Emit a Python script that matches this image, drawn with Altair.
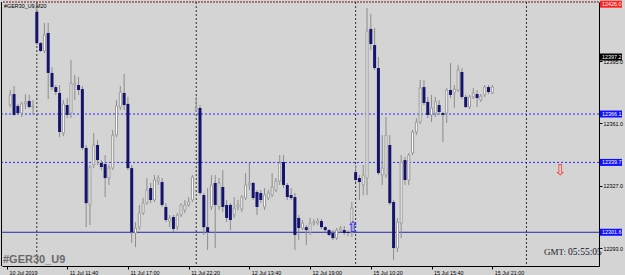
import json
import altair as alt
import pandas as pd

# ---------------- data ----------------
open_ = [12371.0, 12377.0, 12370.5, 12366.6, 12371.6, 12373.2, 12369.9,
         12421.8, 12404.8, 12400.5, 12410.3, 12388.5, 12380.8, 12377.6, 12355.7, 12371.0, 12366.6,
         12381.9, 12381.9, 12379.7, 12347.6, 12316.5, 12338.3, 12349.2, 12339.4, 12338.8, 12331.2,
         12336.6, 12354.6, 12369.9, 12377.6, 12371.6, 12336.6, 12301.2, 12304.4, 12312.1, 12317.5,
         12325.7, 12319.2, 12329.5, 12329.0, 12315.4, 12307.7, 12309.9, 12304.4, 12311.0, 12313.7,
         12316.5, 12319.2,
         12368.3, 12369.4, 12321.9, 12304.4, 12315.4, 12328.5, 12315.4, 12326.3, 12316.5, 12316.5,
         12311.0, 12315.4, 12314.3, 12320.3, 12327.4, 12328.5, 12323.5, 12323.0, 12315.4, 12320.3,
         12321.9, 12324.6, 12329.5, 12339.9, 12327.4, 12321.9, 12320.8, 12309.4, 12303.9, 12304.4,
         12301.7, 12306.6, 12306.6, 12307.7, 12304.4, 12302.8, 12301.2, 12298.4, 12302.8, 12302.8,
         12301.7, 12301.7,
         12334.4, 12331.2, 12327.4, 12331.2, 12412.5, 12403.7, 12391.2, 12332.8, 12332.8, 12349.2,
         12318.1, 12293.0, 12306.6, 12341.0, 12330.1, 12344.8, 12356.3, 12361.7, 12380.8, 12372.7,
         12365.6, 12366.6, 12371.0, 12366.6, 12366.6, 12379.2, 12377.6, 12379.2, 12389.0, 12375.4,
         12369.9, 12375.4, 12377.0, 12373.7, 12376.5, 12380.8, 12377.6]
high = [12379.2, 12381.4, 12371.6, 12372.7, 12377.0, 12376.5, 12373.7,
        12424.5, 12405.4, 12415.8, 12415.8, 12391.7, 12381.9, 12381.9, 12373.7, 12374.8, 12395.6,
        12387.4, 12386.3, 12381.4, 12349.2, 12338.3, 12355.7, 12351.9, 12341.0, 12343.7, 12338.3,
        12357.4, 12373.7, 12381.4, 12387.9, 12375.4, 12338.3, 12307.2, 12316.5, 12320.3, 12331.2,
        12328.5, 12332.8, 12332.8, 12331.2, 12317.5, 12311.0, 12311.0, 12312.1, 12317.5, 12319.2,
        12320.8, 12332.8,
        12375.4, 12371.0, 12323.0, 12325.7, 12332.8, 12332.8, 12331.2, 12335.5, 12319.2, 12317.5,
        12320.8, 12319.2, 12321.9, 12333.9, 12339.4, 12329.0, 12324.6, 12324.6, 12325.7, 12324.6,
        12333.9, 12331.2, 12343.7, 12343.7, 12328.5, 12325.7, 12323.0, 12311.0, 12308.3, 12305.5,
        12309.4, 12308.8, 12309.4, 12308.8, 12305.0, 12303.4, 12302.8, 12303.9, 12305.0, 12305.0,
        12302.8, 12318.1,
        12338.3, 12332.8, 12338.3, 12423.9, 12420.7, 12413.0, 12397.2, 12354.6, 12364.5, 12354.6,
        12319.2, 12309.4, 12343.7, 12342.6, 12344.8, 12357.4, 12363.9, 12384.7, 12384.7, 12375.4,
        12376.5, 12375.4, 12373.7, 12367.2, 12380.3, 12393.9, 12381.9, 12392.8, 12391.2, 12376.5,
        12376.5, 12380.3, 12379.2, 12377.0, 12381.9, 12381.9, 12381.9]
low = [12369.9, 12365.0, 12365.6, 12364.5, 12368.8, 12369.4, 12365.6,
       12403.7, 12399.9, 12399.4, 12374.3, 12379.2, 12376.5, 12353.5, 12354.1, 12363.9, 12363.9,
       12373.7, 12376.5, 12346.5, 12304.4, 12305.5, 12336.6, 12338.3, 12335.5, 12320.8, 12327.4,
       12335.5, 12353.5, 12368.3, 12368.3, 12335.5, 12295.7, 12293.5, 12302.8, 12311.0, 12316.5,
       12317.5, 12318.1, 12327.4, 12315.4, 12307.2, 12304.4, 12301.7, 12302.8, 12309.9, 12312.1,
       12315.4, 12318.1,
       12367.2, 12321.9, 12300.1, 12291.9, 12313.7, 12293.0, 12313.7, 12312.6, 12307.2, 12302.8,
       12309.4, 12313.7, 12312.6, 12319.2, 12324.6, 12319.2, 12311.0, 12317.5, 12313.7, 12319.2,
       12320.8, 12323.5, 12327.4, 12325.7, 12319.2, 12319.2, 12291.9, 12297.4, 12302.8, 12294.6,
       12300.1, 12305.0, 12305.5, 12303.4, 12301.7, 12299.5, 12297.4, 12297.4, 12301.7, 12300.1,
       12299.5, 12299.0,
       12329.0, 12319.2, 12321.9, 12321.9, 12401.0, 12390.1, 12332.8, 12327.4, 12331.2, 12316.5,
       12286.4, 12290.8, 12298.4, 12327.4, 12327.4, 12343.7, 12354.6, 12360.6, 12371.0, 12363.9,
       12361.7, 12364.5, 12365.6, 12350.8, 12361.2, 12374.8, 12369.4, 12378.1, 12374.3, 12369.4,
       12368.8, 12374.3, 12369.9, 12372.7, 12375.4, 12377.0, 12377.0]
close = [12376.5, 12365.6, 12366.6, 12371.6, 12372.7, 12369.9, 12370.5,
         12404.8, 12400.5, 12409.2, 12388.5, 12380.8, 12378.1, 12356.3, 12371.6, 12365.6, 12383.0,
         12383.0, 12379.2, 12347.6, 12317.5, 12337.2, 12349.2, 12341.0, 12337.2, 12331.2, 12336.6,
         12354.6, 12370.5, 12378.1, 12371.0, 12336.6, 12301.7, 12303.9, 12312.1, 12317.5, 12324.6,
         12319.2, 12330.1, 12331.2, 12316.5, 12308.3, 12309.4, 12303.4, 12311.0, 12316.5, 12316.5,
         12318.1, 12331.7,
         12369.4, 12323.0, 12304.4, 12301.7, 12327.4, 12316.5, 12328.5, 12315.4, 12309.4, 12308.3,
         12314.8, 12316.5, 12320.8, 12327.4, 12328.5, 12320.3, 12315.4, 12319.2, 12321.9, 12323.0,
         12326.3, 12329.5, 12339.4, 12327.4, 12320.8, 12320.3, 12300.1, 12303.9, 12306.6, 12302.8,
         12306.6, 12307.2, 12307.7, 12304.4, 12302.8, 12300.1, 12298.4, 12302.8, 12303.9, 12301.2,
         12301.2, 12314.8,
         12330.1, 12329.0, 12332.8, 12411.4, 12404.3, 12391.2, 12333.9, 12336.6, 12354.6, 12317.5,
         12293.0, 12307.2, 12339.9, 12330.1, 12343.7, 12356.3, 12361.7, 12380.3, 12372.1, 12365.6,
         12369.4, 12372.7, 12367.2, 12365.6, 12379.2, 12376.5, 12379.7, 12390.1, 12375.4, 12369.9,
         12375.4, 12377.6, 12374.8, 12375.9, 12380.8, 12378.1, 12380.8]
bar_index = list(range(len(close)))

tick_index = [-0.855, 7, 15, 23, 31, 39, 47, 55, 63, 71, 79, 87, 95, 103, 111, 119, 127]
tick_labels = ["10 Jul 2019", "11 Jul 09:00", "11 Jul 11:40", "11 Jul 14:20", "11 Jul 17:00",
               "11 Jul 19:40", "11 Jul 22:20", "12 Jul 11:00", "12 Jul 13:40", "12 Jul 16:20",
               "12 Jul 19:00", "12 Jul 21:40", "15 Jul 10:20", "15 Jul 13:00", "15 Jul 15:40",
               "15 Jul 18:20", "15 Jul 21:00"]
price_ticks = [12293.0, 12301.5, 12310.0, 12318.5, 12327.0, 12335.5, 12344.0, 12352.5,
               12361.0, 12369.5, 12378.0, 12386.5, 12395.0, 12403.5, 12412.0, 12420.5]

day_separators = [7, 49, 91, 136]

level_prices = [12366.1, 12339.7, 12301.6]
level_dash = [[2, 2], [2, 2], []]
level_colors = ["#2a2aff", "#2a2aff", "#2828a8"]

tag_prices = [12426.0, 12397.2, 12366.1, 12339.7, 12301.6]
tag_texts = ["12426.0", "12397.2", "12366.1", "12339.7", "12301.6"]
tag_colors = ["#ff2020", "#000000", "#1010ff", "#1010ff", "#1010ff"]

arrow_index = [145, 90.3]
arrow_price = [12335.5, 12304.4]
arrow_glyph = ["\u21e9", "\u21e7"]
arrow_color = ["#ff3030", "#2020ff"]

# ---------------- chart ----------------
W, H = 597, 264
BG = "#d4d4d4"
AX_FONT = "Liberation Sans"
AX_SIZE = 5.4

df = pd.DataFrame({"i": bar_index, "open": open_, "high": high, "low": low, "close": close})

xs = alt.Scale(domain=[-0.855, 153.8], nice=False, zero=False)
ys = alt.Scale(domain=[12283.2, 12427.2], nice=False, zero=False)

label_expr = f"{json.dumps(tick_labels)}[indexof({json.dumps(tick_index)}, datum.value)]"
xaxis = alt.Axis(values=tick_index, labelExpr=label_expr, title=None, grid=False,
                 labelAlign="left", labelBaseline="top", labelFontSize=AX_SIZE, labelFont=AX_FONT,
                 labelColor="#000000", labelPadding=1, labelOffset=2, tickSize=3, tickColor="#000000",
                 domainColor="#000000", labelOverlap=False, labelFlush=False)
yaxis = alt.Axis(values=price_ticks, format=".1f", orient="right", title=None, grid=False,
                 labelFontSize=AX_SIZE, labelFont=AX_FONT, labelColor="#000000",
                 tickSize=3, tickColor="#000000", domainColor="#000000", labelPadding=1,
                 labelOverlap=False, labelFlush=False)

base = alt.Chart(df)

wicks = base.mark_rule(color="#8c8c8c", strokeWidth=1).encode(
    x=alt.X("i:Q", scale=xs, axis=xaxis),
    y=alt.Y("low:Q", scale=ys, axis=yaxis),
    y2="high:Q",
)
bull = base.transform_filter("datum.close >= datum.open").mark_bar(
    size=2, fill="#ffffff", stroke="#9a9a9a", strokeWidth=1
).encode(x=alt.X("i:Q", scale=xs), y=alt.Y("open:Q", scale=ys), y2="close:Q")
bear = base.transform_filter("datum.close < datum.open").mark_bar(
    size=3, color="#14146e"
).encode(x=alt.X("i:Q", scale=xs), y=alt.Y("open:Q", scale=ys), y2="close:Q")

sep_df = pd.DataFrame({"i": day_separators})
seps = alt.Chart(sep_df).mark_rule(color="#303030", strokeDash=[2, 2], strokeWidth=1).encode(
    x=alt.X("i:Q", scale=xs)
)

levels = []
for p, d, c in zip(level_prices, level_dash, level_colors):
    kw = {"strokeDash": d} if d else {}
    levels.append(
        alt.Chart(pd.DataFrame({"p": [p]})).mark_rule(color=c, strokeWidth=1, **kw).encode(
            y=alt.Y("p:Q", scale=ys)
        )
    )

top_line = alt.Chart(pd.DataFrame({"a": [0]})).mark_rule(
    color="#7a1010", strokeDash=[2, 1], strokeWidth=1
).encode(y=alt.value(0))
left_line = alt.Chart(pd.DataFrame({"a": [0]})).mark_rule(color="#000000", strokeWidth=1).encode(
    x=alt.value(-0.5)
)

tag_df = pd.DataFrame({"p": tag_prices, "t": tag_texts, "c": tag_colors})
tag_rect = alt.Chart(tag_df).mark_rect(yOffset=-3.5, y2Offset=3.5).encode(
    y=alt.Y("p:Q", scale=ys), y2="p:Q", x=alt.value(W + 1), x2=alt.value(W + 23),
    color=alt.Color("c:N", scale=None),
)
tag_text = alt.Chart(tag_df).mark_text(
    align="left", baseline="middle", fontSize=AX_SIZE, font=AX_FONT, color="#ffffff"
).encode(y=alt.Y("p:Q", scale=ys), x=alt.value(W + 3), text="t:N")

arr_df = pd.DataFrame({"i": arrow_index, "p": arrow_price, "g": arrow_glyph, "c": arrow_color})
arrows = alt.Chart(arr_df).mark_text(fontSize=15, font="DejaVu Sans", baseline="middle").encode(
    x=alt.X("i:Q", scale=xs), y=alt.Y("p:Q", scale=ys), text="g:N",
    color=alt.Color("c:N", scale=None),
)

def label(txt, x, y, **kw):
    return alt.Chart(pd.DataFrame({"t": [txt]})).mark_text(align="left", **kw).encode(
        x=alt.value(x), y=alt.value(y), text="t:N"
    )

title_small = label("#GER30_U9,M20", 2, 6, fontSize=AX_SIZE, font=AX_FONT, color="#000000",
                    baseline="alphabetic")
title_big = label("#GER30_U9", 1, 261, fontSize=11, font="Liberation Sans", fontWeight="bold",
                  color="#6a6a6a", baseline="alphabetic")
gmt = label("GMT:", 542, 253, fontSize=9, font="Liberation Serif", color="#1a1a1a",
            baseline="alphabetic")
clock = label("05:55:05", 566, 253, fontSize=9.5, font="Liberation Serif", color="#10102a",
              baseline="alphabetic")

chart = alt.layer(
    seps, *levels, top_line, left_line, wicks, bull, bear, arrows,
    tag_rect, tag_text, title_small, title_big, gmt, clock
).properties(
    width=W, height=H,
    autosize=alt.AutoSizeParams(type="none"),
    padding={"left": 2, "top": 2, "right": 26, "bottom": 9},
    background=BG,
).configure_view(stroke=None, fill=BG)

chart.save("out.html", embed_options={"renderer": "svg", "actions": False})
